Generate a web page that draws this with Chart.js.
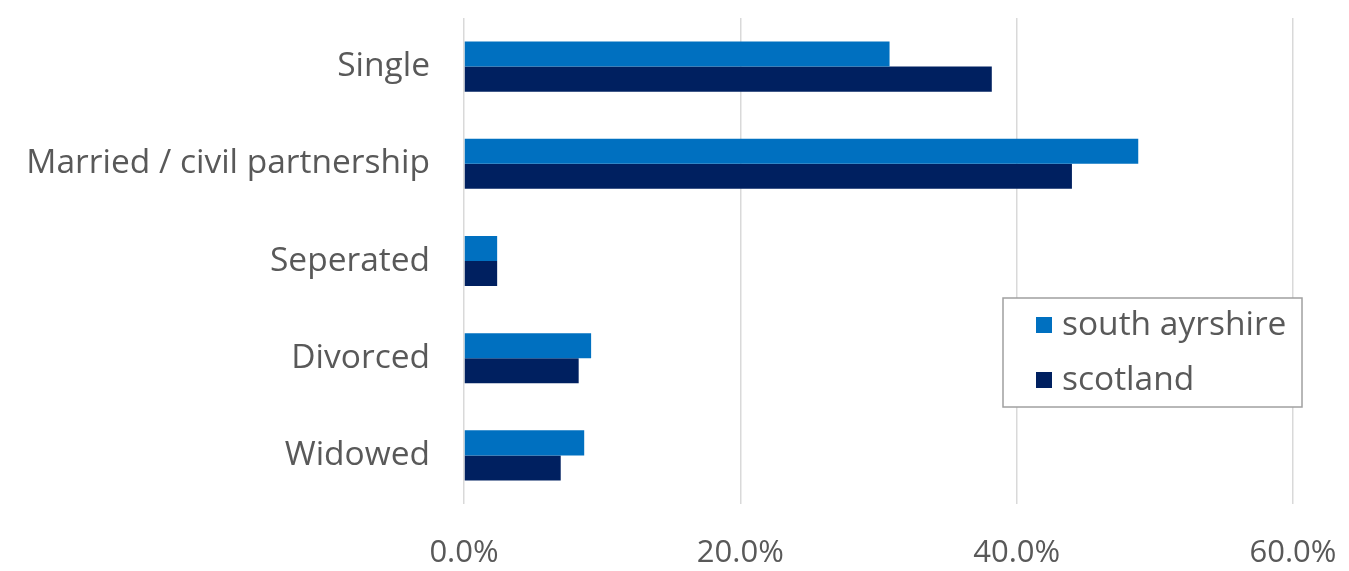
<!DOCTYPE html>
<html>
<head>
<meta charset="utf-8">
<script src="https://cdn.jsdelivr.net/npm/chart.js@4.4.1/dist/chart.umd.min.js"></script>
<style>
  html, body { margin: 0; padding: 0; background: #ffffff; }
  #wrap { width: 1349px; height: 571px; position: relative; }
</style>
</head>
<body>
<div id="wrap"><canvas id="chart" width="1349" height="571"></canvas></div>
<script>
// Marital status shares (%)
const categories = ['Single', 'Married / civil partnership', 'Seperated', 'Divorced', 'Widowed'];
const southAyrshire = [30.8, 48.8, 2.4, 9.2, 8.7];
const scotland = [38.2, 44.0, 2.4, 8.3, 7.0];
const seriesNames = ['south ayrshire', 'scotland'];
const xTicks = [0, 20, 40, 60];

const FONT = "'Open Sans', 'Noto Sans', sans-serif";
const TEXT = '#595959';
const LABEL_SIZE = 33.5;
const TICK_SIZE = 31;

// Boxed legend drawn inside the plot area
const boxLegend = {
  id: 'boxLegend',
  afterDraw(chart) {
    const ctx = chart.ctx;
    const x = 1003, y = 298, w = 299, h = 109;
    ctx.save();
    ctx.fillStyle = '#ffffff';
    ctx.fillRect(x, y, w, h);
    ctx.strokeStyle = '#a0a0a0';
    ctx.lineWidth = 1.5;
    ctx.strokeRect(x, y, w, h);
    ctx.font = LABEL_SIZE + 'px ' + FONT;
    ctx.textBaseline = 'middle';
    ctx.textAlign = 'left';
    chart.data.datasets.forEach((ds, i) => {
      const cy = y + 27 + i * 55;
      ctx.fillStyle = ds.backgroundColor;
      ctx.fillRect(x + 33, cy - 8, 16, 16);
      ctx.fillStyle = TEXT;
      ctx.fillText(ds.label, x + 59, cy);
    });
    ctx.restore();
  }
};

// Keep tick label overhang from shrinking the plot area
function noOverhang(axis) {
  axis.paddingTop = 0;
  axis.paddingBottom = 0;
  axis.paddingLeft = 0;
  axis.paddingRight = 0;
}

new Chart(document.getElementById('chart'), {
  type: 'bar',
  data: {
    labels: categories,
    datasets: [
      { label: seriesNames[0], data: southAyrshire, backgroundColor: '#0070C0',
        categoryPercentage: 0.515, barPercentage: 1.0 },
      { label: seriesNames[1], data: scotland, backgroundColor: '#002060',
        categoryPercentage: 0.515, barPercentage: 1.0 }
    ]
  },
  options: {
    indexAxis: 'y',
    responsive: false,
    animation: false,
    layout: { padding: { top: 18, right: 56, bottom: 0, left: 0 } },
    plugins: {
      legend: { display: false },
      tooltip: { enabled: false }
    },
    scales: {
      x: {
        min: 0,
        max: 60,
        afterBuildTicks(axis) { axis.ticks = xTicks.map(v => ({ value: v })); },
        afterFit(axis) { axis.height = 67; noOverhang(axis); },
        grid: { color: '#d9d9d9', lineWidth: 1.5, drawTicks: false },
        border: { display: false },
        ticks: {
          padding: 31,
          color: TEXT,
          font: { family: FONT, size: TICK_SIZE },
          callback: v => v.toFixed(1) + '%'
        }
      },
      y: {
        afterFit(axis) { axis.width = 464; noOverhang(axis); },
        grid: { display: false, drawTicks: false },
        border: { display: false },
        ticks: {
          padding: 34,
          color: TEXT,
          font: { family: FONT, size: LABEL_SIZE }
        }
      }
    }
  },
  plugins: [boxLegend]
});
</script>
</body>
</html>
